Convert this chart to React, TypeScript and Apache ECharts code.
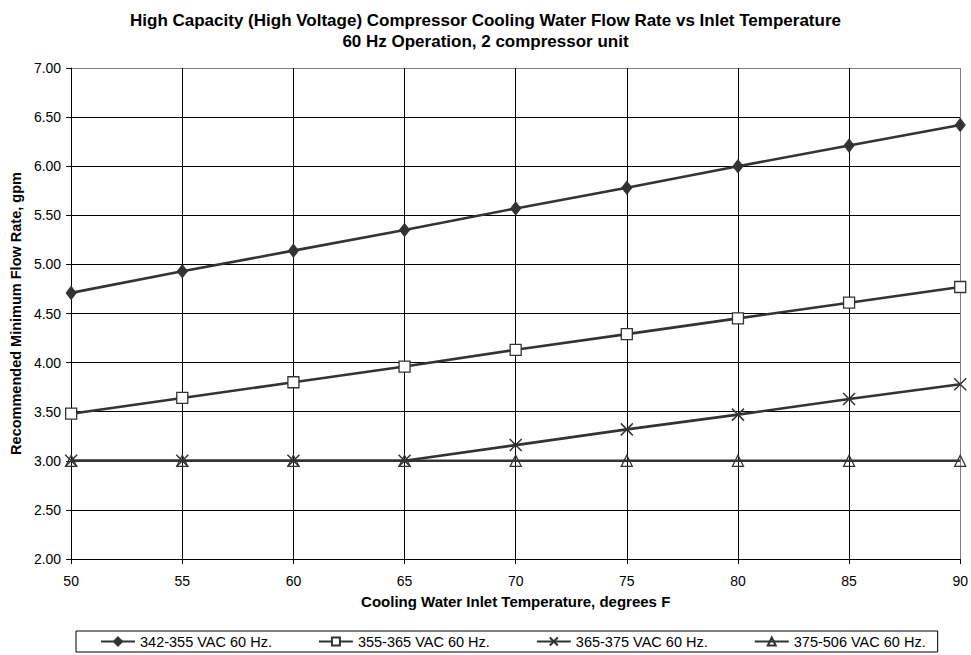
import React, { useEffect, useRef } from "react";
import * as echarts from "echarts";

const temps = [50, 55, 60, 65, 70, 75, 80, 85, 90];
const s342 = [4.71, 4.93, 5.14, 5.35, 5.57, 5.78, 6.0, 6.21, 6.42];
const s355 = [3.48, 3.64, 3.8, 3.96, 4.13, 4.29, 4.45, 4.61, 4.77];
const s365 = [3.0, 3.0, 3.0, 3.0, 3.16, 3.32, 3.47, 3.63, 3.78];
const s375 = [3.0, 3.0, 3.0, 3.0, 3.0, 3.0, 3.0, 3.0, 3.0];
const seriesNames = ["342-355 VAC 60 Hz.", "355-365 VAC 60 Hz.", "365-375 VAC 60 Hz.", "375-506 VAC 60 Hz."];

const FONT = "Liberation Sans, Arial, sans-serif";
const LINE = "#333333";

export default function App() {
  const ref = useRef<HTMLDivElement>(null);
  useEffect(() => {
    if (!ref.current) return;
    const chart = echarts.init(ref.current, null, { renderer: "svg" });
    const pair = (ys: number[]) => temps.map((t, i) => [t, ys[i]]);
    const base = {
      type: "line",
      lineStyle: { color: LINE, width: 2.6 },
      z: 3,
    };
    const ySplitColors = Array.from({ length: 11 }, (_, i) => (i === 10 ? "#808080" : "#000"));
    const xSplitColors = Array.from({ length: 9 }, (_, i) => (i === 8 ? "#808080" : "#000"));
    chart.setOption({
      animation: false,
      backgroundColor: "#ffffff",
      textStyle: { fontFamily: FONT },
      title: {
        text: "High Capacity (High Voltage) Compressor Cooling Water Flow Rate vs Inlet Temperature\n60 Hz Operation, 2 compressor unit",
        left: "center",
        top: 5,
        textStyle: { fontFamily: FONT, fontSize: 17, fontWeight: "bold", color: "#000", lineHeight: 21 },
      },
      grid: { left: 71, right: 9, top: 68, bottom: 96 },
      legend: {
        top: 631,
        left: 76,
        itemGap: 46,
        padding: [3, 12, 3, 24],
        borderColor: "#000",
        borderWidth: 1,
        itemWidth: 34,
        itemHeight: 10,
        textStyle: { fontFamily: FONT, fontSize: 14.5, color: "#000" },
        data: seriesNames,
      },
      xAxis: {
        type: "value",
        min: 50,
        max: 90,
        interval: 5,
        name: "Cooling Water Inlet Temperature, degrees F",
        nameLocation: "middle",
        nameGap: 35,
        nameTextStyle: { fontFamily: FONT, fontSize: 15, fontWeight: "bold", color: "#000" },
        axisLine: { lineStyle: { color: "#000" } },
        axisTick: { show: true, length: 5, lineStyle: { color: "#000" } },
        axisLabel: { fontFamily: FONT, fontSize: 14, color: "#000", margin: 15 },
        splitLine: { show: true, lineStyle: { color: xSplitColors, width: 1 } },
      },
      yAxis: {
        type: "value",
        min: 2,
        max: 7,
        interval: 0.5,
        name: "Recommended Minimum Flow Rate, gpm",
        nameLocation: "middle",
        nameGap: 48,
        nameTextStyle: { fontFamily: FONT, fontSize: 14.5, fontWeight: "bold", color: "#000" },
        axisLine: { show: true, lineStyle: { color: "#000" } },
        axisTick: { show: true, length: 5, lineStyle: { color: "#000" } },
        axisLabel: { fontFamily: FONT, fontSize: 14, color: "#000", formatter: (v: number) => v.toFixed(2), margin: 10 },
        splitLine: { show: true, lineStyle: { color: ySplitColors, width: 1 } },
      },
      series: [
        {
          ...base,
          name: seriesNames[0],
          data: pair(s342),
          symbol: "diamond",
          symbolSize: [10, 13],
          itemStyle: { color: LINE, borderColor: LINE, borderWidth: 1 },
        },
        {
          ...base,
          name: seriesNames[1],
          data: pair(s355),
          symbol: "rect",
          symbolSize: 11,
          itemStyle: { color: "#ffffff", borderColor: LINE, borderWidth: 1.3 },
        },
        {
          ...base,
          name: seriesNames[2],
          data: pair(s365),
          symbol: "path://M0,0L10,10M10,0L0,10",
          symbolSize: 12,
          itemStyle: { color: "none", borderColor: LINE, borderWidth: 1.5 },
        },
        {
          ...base,
          name: seriesNames[3],
          data: pair(s375),
          symbol: "triangle",
          symbolSize: 11,
          itemStyle: { color: "rgba(255,255,255,0)", borderColor: LINE, borderWidth: 1.3 },
        },
      ],
    });
    return () => chart.dispose();
  }, []);
  return <div ref={ref} style={{ width: 971, height: 655, position: "absolute", left: 0, top: 0 }} />;
}
